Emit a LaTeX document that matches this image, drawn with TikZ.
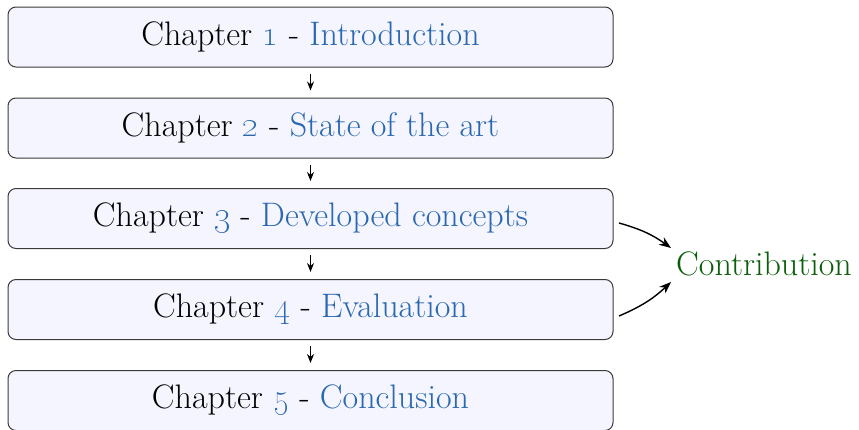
\documentclass[tikz,border=0pt]{standalone}
\usetikzlibrary{arrows.meta}
\definecolor{boxfill}{HTML}{F5F5FF}
\definecolor{boxdraw}{HTML}{3A3A3A}
\definecolor{ctblue}{HTML}{2A68B0}
\definecolor{ctgreen}{HTML}{0B5E0B}
\begin{document}
\begin{tikzpicture}[x=1pt,y=-1pt,
  chapbox/.style={draw=boxdraw,fill=boxfill,rounded corners=8pt,line width=1pt,
    minimum width=605pt,minimum height=60pt,inner sep=0pt,
    font=\fontsize{34}{40}\selectfont},
  flow/.style={-{Stealth[length=9pt,width=7pt]},line width=1.2pt,shorten <=6pt,shorten >=7pt},
  contrib/.style={-{Stealth[length=12pt,width=9pt]},line width=1.4pt}]
\useasboundingbox (0,0) rectangle (859,429);
\node[chapbox] (c1) at (310.5,37) {Chapter \textcolor{ctblue}{\oldstylenums{1}} - \textcolor{ctblue}{Introduction}};
\node[chapbox] (c2) at (310.5,128) {Chapter \textcolor{ctblue}{\oldstylenums{2}} - \textcolor{ctblue}{State of the art}};
\node[chapbox] (c3) at (310.5,218.5) {Chapter \textcolor{ctblue}{\oldstylenums{3}} - \textcolor{ctblue}{Developed concepts}};
\node[chapbox] (c4) at (310.5,309.5) {Chapter \textcolor{ctblue}{\oldstylenums{4}} - \textcolor{ctblue}{Evaluation}};
\node[chapbox] (c5) at (310.5,400.5) {Chapter \textcolor{ctblue}{\oldstylenums{5}} - \textcolor{ctblue}{Conclusion}};
\node[text=ctgreen,font=\fontsize{34}{40}\selectfont,inner sep=0pt] (ct) at (764,264) {Contribution};
\draw[flow] (c1) -- (c2);
\draw[flow] (c2) -- (c3);
\draw[flow] (c3) -- (c4);
\draw[flow] (c4) -- (c5);
\coordinate (s3) at (619,223);
\coordinate (s4) at (619,316);
\coordinate (e3) at (671,248);
\coordinate (e4) at (671,282);
\draw[contrib] (s3) to[bend left=10] (e3);
\draw[contrib] (s4) to[bend right=10] (e4);
\end{tikzpicture}
\end{document}
